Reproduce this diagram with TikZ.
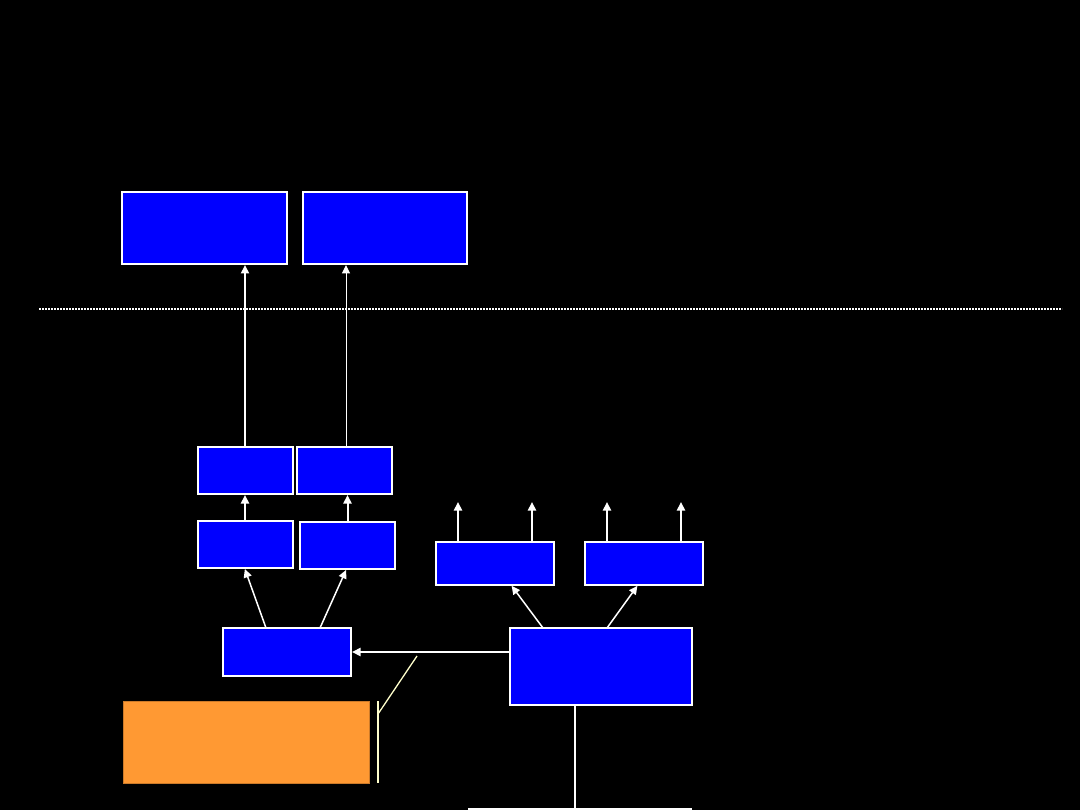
\documentclass[tikz,border=0pt]{standalone}
\usetikzlibrary{arrows.meta}
\definecolor{bblue}{HTML}{0000FF}
\definecolor{borange}{HTML}{FF9933}
\definecolor{bcream}{HTML}{FFFFCC}
\tikzset{
  bbox/.style={draw=white, line width=1.3pt, fill=bblue, inner sep=0pt, outer sep=0pt, anchor=north west},
  obox/.style={draw=borange!80!black, line width=0.8pt, fill=borange, inner sep=0pt, outer sep=0pt, anchor=north west},
  arr/.style={draw=white, line width=2pt, shorten >=1pt, -{Triangle[width=8pt,length=8.5pt]}},
  thinarr/.style={draw=white, line width=1pt, shorten >=1pt, -{Triangle[width=8pt,length=8.5pt]}},
  plain/.style={draw=white, line width=2pt},
  cream/.style={draw=bcream, line width=1.3pt}
}
\begin{document}
\begin{tikzpicture}[x=1pt,y=-1pt]
\fill[black] (0,0) rectangle (1080,810);
\useasboundingbox (0,0) rectangle (1080,810);
% boxes
\node[bbox, minimum width=165pt, minimum height=72pt] (a1) at (122,192) {};
\node[bbox, minimum width=164pt, minimum height=72pt] (a2) at (303,192) {};
\node[bbox, minimum width=95pt, minimum height=47pt] (b1) at (198,447) {};
\node[bbox, minimum width=95pt, minimum height=47pt] (b2) at (297,447) {};
\node[bbox, minimum width=95pt, minimum height=47pt] (c1) at (198,521) {};
\node[bbox, minimum width=95pt, minimum height=47pt] (c2) at (300,522) {};
\node[bbox, minimum width=128pt, minimum height=48pt] (d) at (223,628) {};
\node[bbox, minimum width=182pt, minimum height=77pt] (e) at (510,628) {};
\node[bbox, minimum width=118pt, minimum height=43pt] (f1) at (436,542) {};
\node[bbox, minimum width=118pt, minimum height=43pt] (f2) at (585,542) {};
\node[obox, minimum width=246pt, minimum height=82pt] (o) at (123,701) {};
% dotted separator
\coordinate (sepL) at (39,309);
\coordinate (sepR) at (1062,309);
\draw[white, line width=1.2pt, dash pattern=on 2pt off 1pt] (sepL) -- (sepR);
% vertical arrows
\draw[arr] ([xshift=-0.5pt]b1.north) -- ([xshift=-0.5pt]b1.north |- a1.south);
\draw[thinarr] ([xshift=1.5pt]b2.north) -- ([xshift=1.5pt]b2.north |- a2.south);
\draw[arr] ([xshift=-0.5pt]c1.north) -- ([xshift=-0.5pt]c1.north |- b1.south);
\draw[arr] (c2.north) -- (c2.north |- b2.south);
% diagonal arrows from d
\draw[arr, line width=1.5pt] ([xshift=-21pt]d.north) -- ([xshift=-1pt]c1.south);
\draw[arr, line width=1.5pt] ([xshift=33pt]d.north) -- ([xshift=-1pt]c2.south);
% from e to f
\draw[arr, line width=1.5pt] ([xshift=-58pt]e.north) -- ([xshift=16pt]f1.south);
\draw[arr, line width=1.5pt] ([xshift=6pt]e.north) -- ([xshift=-6pt]f2.south);
% e to d
\coordinate (eL) at ([yshift=-24pt]e.north west);
\draw[arr] (eL) -- (d.east |- eL);
% f up arrows
\coordinate (u1) at (458,501);
\coordinate (u2) at (532,501);
\coordinate (u3) at (607,501);
\coordinate (u4) at (681,501);
\draw[arr] (f1.north west -| u1) -- (u1);
\draw[arr] (f1.north west -| u2) -- (u2);
\draw[arr] (f2.north west -| u3) -- (u3);
\draw[arr] (f2.north west -| u4) -- (u4);
% e down
\coordinate (ebot) at (575,810);
\draw[plain] (e.south -| ebot) -- (ebot);
\coordinate (hl) at (468,809);
\coordinate (hr) at (692,809);
\draw[white, line width=1.5pt] (hl) -- (hr);
% cream callout
\coordinate (v1) at (378,701);
\coordinate (v2) at (378,783);
\coordinate (k1) at (378,714);
\coordinate (k2) at (417,656);
\draw[cream, line width=2pt] (v1) -- (v2);
\draw[cream] (k1) -- (k2);
\end{tikzpicture}
\end{document}
